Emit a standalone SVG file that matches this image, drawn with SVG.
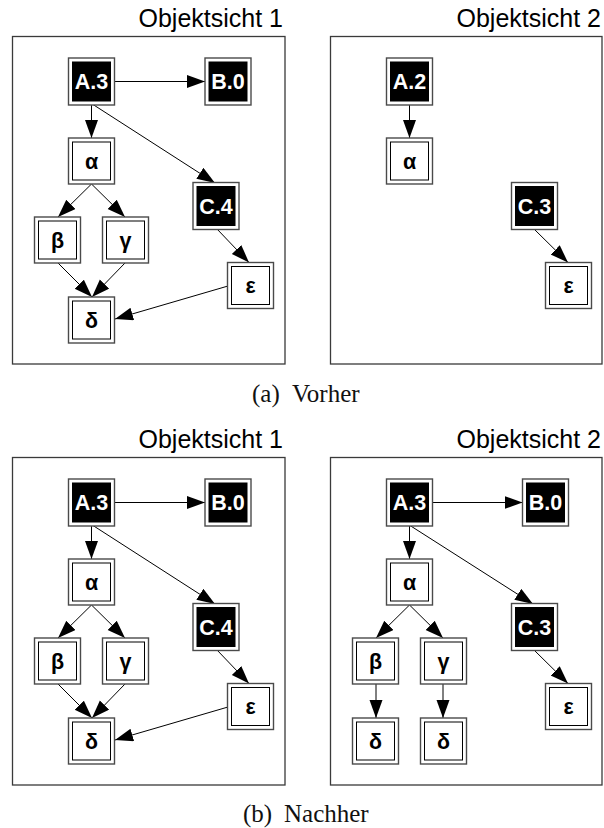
<svg xmlns="http://www.w3.org/2000/svg" width="604" height="828" viewBox="0 0 604 828">
<defs>
<style>
.frame{fill:none;stroke:#3a3a3a;stroke-width:1.3}
.title{font-family:"Liberation Sans",Arial,sans-serif;font-size:25px;fill:#000;text-anchor:end}
.cap{font-family:"Liberation Serif","Times New Roman",serif;font-size:25px;fill:#111}
.outer{fill:#fff;stroke:#4a4a4a;stroke-width:1.4}
.inb{fill:#000;stroke:#000;stroke-width:1}
.inw{fill:#fff;stroke:#000;stroke-width:1}
.lb{font-family:"Liberation Sans",Arial,sans-serif;font-weight:bold;font-size:21.5px;text-anchor:middle}
.lw{fill:#fff}
.lk{fill:#000}
.e{stroke:#000;stroke-width:1;fill:none;marker-end:url(#ah)}
</style>
<marker id="ah" markerUnits="userSpaceOnUse" markerWidth="19" markerHeight="14" refX="18" refY="6.5" orient="auto">
<path d="M0,0 L18,6.5 L0,13 z" fill="#000"/>
</marker>
<g id="nb"><rect class="outer" x="-23" y="-23.5" width="46" height="47"/><rect class="inb" x="-19" y="-19.5" width="38" height="39"/></g>
<g id="nw"><rect class="outer" x="-23" y="-23" width="46" height="46"/><rect class="inw" x="-19" y="-19" width="38" height="38"/></g>
</defs>
<rect width="604" height="828" fill="#fff"/>

<!-- Frames and titles -->
<rect class="frame" x="12.5" y="36.5" width="272.5" height="327.5"/>
<rect class="frame" x="330.5" y="36.5" width="271.5" height="327.5"/>
<rect class="frame" x="12.5" y="457.5" width="272.5" height="327.5"/>
<rect class="frame" x="330.5" y="457.5" width="271.5" height="327.5"/>
<text class="title" x="283" y="27">Objektsicht 1</text>
<text class="title" x="601" y="27">Objektsicht 2</text>
<text class="title" x="283" y="448">Objektsicht 1</text>
<text class="title" x="601" y="448">Objektsicht 2</text>
<text class="cap" x="252" y="402">(a)</text>
<text class="cap" x="292" y="402">Vorher</text>
<text class="cap" x="243" y="822">(b)</text>
<text class="cap" x="284" y="822">Nachher</text>

<g id="connectors">
<!-- top-left -->
<line class="e" x1="114.5" y1="81.5" x2="205" y2="81.5"/>
<line class="e" x1="91.5" y1="104.5" x2="91.5" y2="138"/>
<line class="e" x1="93" y1="104.5" x2="215" y2="183"/>
<line class="e" x1="91.5" y1="184" x2="58" y2="217"/>
<line class="e" x1="91.5" y1="184" x2="125" y2="217"/>
<line class="e" x1="58" y1="263" x2="92" y2="297"/>
<line class="e" x1="125" y1="263" x2="92" y2="297"/>
<line class="e" x1="217" y1="229" x2="249" y2="262.5"/>
<line class="e" x1="228" y1="286" x2="115" y2="319"/>
<!-- top-right -->
<line class="e" x1="409.5" y1="104.5" x2="409.5" y2="138"/>
<line class="e" x1="534" y1="229" x2="568" y2="262.5"/>
<!-- bottom-left -->
<line class="e" x1="114.5" y1="502.5" x2="205" y2="502.5"/>
<line class="e" x1="91.5" y1="525.5" x2="91.5" y2="559"/>
<line class="e" x1="93" y1="525.5" x2="215" y2="604"/>
<line class="e" x1="91.5" y1="605" x2="58" y2="638"/>
<line class="e" x1="91.5" y1="605" x2="125" y2="638"/>
<line class="e" x1="58" y1="684" x2="92" y2="718"/>
<line class="e" x1="125" y1="684" x2="92" y2="718"/>
<line class="e" x1="217" y1="650" x2="249" y2="683.5"/>
<line class="e" x1="228" y1="707" x2="115" y2="740"/>
<!-- bottom-right -->
<line class="e" x1="432.5" y1="502.5" x2="522.5" y2="502.5"/>
<line class="e" x1="409.5" y1="525.5" x2="409.5" y2="559"/>
<line class="e" x1="410" y1="525.5" x2="533" y2="604"/>
<line class="e" x1="409.5" y1="605" x2="376" y2="638"/>
<line class="e" x1="409.5" y1="605" x2="443" y2="638"/>
<line class="e" x1="376" y1="684" x2="376" y2="718"/>
<line class="e" x1="443" y1="684" x2="443" y2="718"/>
<line class="e" x1="534" y1="650" x2="568" y2="683.5"/>
</g>

<!-- top-left nodes -->
<g id="a_tl_A3" transform="translate(91.5,81.5)"><use href="#nb"/><text class="lb lw" y="7.5">A.3</text></g>
<g id="a_tl_B0" transform="translate(228,81.5)"><use href="#nb"/><text class="lb lw" y="7.5">B.0</text></g>
<g id="a_tl_alpha" transform="translate(91.5,161)"><use href="#nw"/><text class="lb lk" y="7.5">α</text></g>
<g id="a_tl_C4" transform="translate(216,206)"><use href="#nb"/><text class="lb lw" y="7.5">C.4</text></g>
<g id="a_tl_beta" transform="translate(57.5,240)"><use href="#nw"/><text class="lb lk" y="7.5">β</text></g>
<g id="a_tl_gamma" transform="translate(125.5,240)"><use href="#nw"/><text class="lb lk" y="7.5">γ</text></g>
<g id="a_tl_delta" transform="translate(91.5,320)"><use href="#nw"/><text class="lb lk" y="7.5">δ</text></g>
<g id="a_tl_eps" transform="translate(250.5,285.5)"><use href="#nw"/><text class="lb lk" y="7.5">ε</text></g>

<!-- top-right nodes -->
<g id="a_tr_A2" transform="translate(409.5,81.5)"><use href="#nb"/><text class="lb lw" y="7.5">A.2</text></g>
<g id="a_tr_alpha" transform="translate(409.5,161)"><use href="#nw"/><text class="lb lk" y="7.5">α</text></g>
<g id="a_tr_C3" transform="translate(534.5,206)"><use href="#nb"/><text class="lb lw" y="7.5">C.3</text></g>
<g id="a_tr_eps" transform="translate(568.5,285.5)"><use href="#nw"/><text class="lb lk" y="7.5">ε</text></g>

<!-- bottom-left nodes -->
<g id="b_bl_A3" transform="translate(91.5,502.5)"><use href="#nb"/><text class="lb lw" y="7.5">A.3</text></g>
<g id="b_bl_B0" transform="translate(228,502.5)"><use href="#nb"/><text class="lb lw" y="7.5">B.0</text></g>
<g id="b_bl_alpha" transform="translate(91.5,582)"><use href="#nw"/><text class="lb lk" y="7.5">α</text></g>
<g id="b_bl_C4" transform="translate(216,627)"><use href="#nb"/><text class="lb lw" y="7.5">C.4</text></g>
<g id="b_bl_beta" transform="translate(57.5,661)"><use href="#nw"/><text class="lb lk" y="7.5">β</text></g>
<g id="b_bl_gamma" transform="translate(125.5,661)"><use href="#nw"/><text class="lb lk" y="7.5">γ</text></g>
<g id="b_bl_delta" transform="translate(91.5,741)"><use href="#nw"/><text class="lb lk" y="7.5">δ</text></g>
<g id="b_bl_eps" transform="translate(250.5,706.5)"><use href="#nw"/><text class="lb lk" y="7.5">ε</text></g>

<!-- bottom-right nodes -->
<g id="b_br_A3" transform="translate(409.5,502.5)"><use href="#nb"/><text class="lb lw" y="7.5">A.3</text></g>
<g id="b_br_B0" transform="translate(545.5,502.5)"><use href="#nb"/><text class="lb lw" y="7.5">B.0</text></g>
<g id="b_br_alpha" transform="translate(409.5,582)"><use href="#nw"/><text class="lb lk" y="7.5">α</text></g>
<g id="b_br_C3" transform="translate(534.5,627)"><use href="#nb"/><text class="lb lw" y="7.5">C.3</text></g>
<g id="b_br_beta" transform="translate(375.5,661)"><use href="#nw"/><text class="lb lk" y="7.5">β</text></g>
<g id="b_br_gamma" transform="translate(443.5,661)"><use href="#nw"/><text class="lb lk" y="7.5">γ</text></g>
<g id="b_br_delta1" transform="translate(375.5,741)"><use href="#nw"/><text class="lb lk" y="7.5">δ</text></g>
<g id="b_br_delta2" transform="translate(443.5,741)"><use href="#nw"/><text class="lb lk" y="7.5">δ</text></g>
<g id="b_br_eps" transform="translate(568.5,706.5)"><use href="#nw"/><text class="lb lk" y="7.5">ε</text></g>
</svg>
